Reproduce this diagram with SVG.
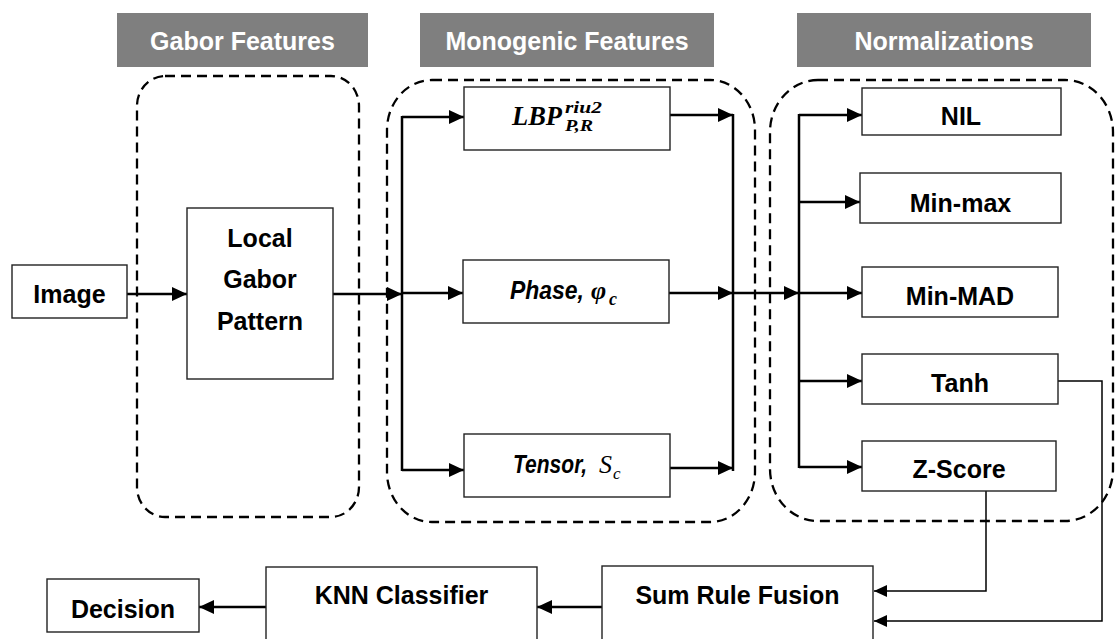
<svg xmlns="http://www.w3.org/2000/svg" width="1117" height="639" viewBox="0 0 1117 639">
<defs>
<marker id="arr" markerUnits="userSpaceOnUse" markerWidth="16" markerHeight="14" refX="15" refY="7" orient="auto">
<path d="M0,0 L15,7 L0,14 z" fill="#000"/>
</marker>
<marker id="arrs" markerUnits="userSpaceOnUse" markerWidth="14" markerHeight="12" refX="13" refY="6" orient="auto">
<path d="M0,0 L13,6 L0,12 z" fill="#000"/>
</marker>
</defs>
<style>
.hdr{fill:#7f7f7f}
.ht{fill:#fff;font-family:"Liberation Sans",Arial,sans-serif;font-weight:bold;font-size:25px;text-anchor:middle}
.grp{fill:none;stroke:#000;stroke-width:2.3;stroke-dasharray:10 6}
.box{fill:#fff;stroke:#222;stroke-width:1.4}
.t{fill:#000;font-family:"Liberation Sans",Arial,sans-serif;font-weight:bold;font-size:25px;text-anchor:middle}
.ti{fill:#000;font-family:"Liberation Sans",Arial,sans-serif;font-weight:bold;font-style:italic;font-size:25px}
.m{fill:#000;font-family:"Liberation Serif","Times New Roman",serif;font-style:italic}
.c{fill:none;stroke:#000;stroke-width:2.5}
.ca{fill:none;stroke:#000;stroke-width:2.5;marker-end:url(#arr)}
.cs{fill:none;stroke:#000;stroke-width:1.5;marker-end:url(#arrs)}
</style>
<rect width="1117" height="639" fill="#fff"/>

<g id="headers">
<g id="hdr-gabor"><rect class="hdr" x="117" y="13" width="251" height="54"/><text class="ht" x="242.5" y="50">Gabor Features</text></g>
<g id="hdr-monogenic"><rect class="hdr" x="420" y="13" width="294" height="54"/><text class="ht" x="567" y="50">Monogenic Features</text></g>
<g id="hdr-norm"><rect class="hdr" x="797" y="13" width="294" height="54"/><text class="ht" x="944" y="50">Normalizations</text></g>
</g>

<g id="groups">
<rect class="grp" x="137" y="76" width="222" height="441" rx="28" ry="30"/>
<rect class="grp" x="387" y="80" width="368" height="442" rx="45" ry="50"/>
<rect class="grp" x="770" y="80" width="343" height="441" rx="48" ry="52"/>
</g>

<g id="connectors">
<path class="ca" d="M127,294 H187"/>
<path class="ca" d="M333,294 H402"/>
<path class="c" d="M402,116 V471"/>
<path class="ca" d="M402,117 H464"/>
<path class="ca" d="M402,293 H463"/>
<path class="ca" d="M402,470 H464"/>
<path class="ca" d="M670,115 H733"/>
<path class="ca" d="M669,293 H733"/>
<path class="ca" d="M670,468 H733"/>
<path class="c" d="M733,114 V471"/>
<path class="ca" d="M733,293 H799"/>
<path class="c" d="M799,114 V468"/>
<path class="ca" d="M799,115 H862"/>
<path class="ca" d="M799,202 H860"/>
<path class="ca" d="M799,293 H862"/>
<path class="ca" d="M799,381 H862"/>
<path class="ca" d="M799,467 H862"/>
<path class="cs" d="M1058,381 H1102 V621 H874"/>
<path class="cs" d="M986,491 V591 H874"/>
<path class="ca" d="M602,607 H537"/>
<path class="ca" d="M266,607 H199"/>
</g>

<g id="image"><rect class="box" x="12" y="265" width="115" height="53"/><text class="t" x="69.5" y="303">Image</text></g>
<g id="lgp"><rect class="box" x="187" y="208" width="146" height="171"/>
<text class="t" x="260" y="247">Local</text><text class="t" x="260" y="288">Gabor</text><text class="t" x="260" y="330">Pattern</text></g>

<g id="lbp"><rect class="box" x="464" y="87" width="206" height="63"/>
<text class="m" x="512" y="125" font-size="27" font-weight="bold" textLength="50" lengthAdjust="spacingAndGlyphs">LBP</text>
<text class="m" x="565" y="113" font-size="17" font-weight="bold" textLength="37" lengthAdjust="spacingAndGlyphs">riu2</text>
<text class="m" x="565" y="131" font-size="17" font-weight="bold" textLength="28" lengthAdjust="spacingAndGlyphs">P,R</text></g>

<g id="phase"><rect class="box" x="463" y="260" width="206" height="63"/>
<text class="ti" x="510" y="299" textLength="74" lengthAdjust="spacingAndGlyphs">Phase,</text>
<text class="m" x="591" y="299" font-size="26" font-weight="bold">φ</text>
<text class="m" x="609" y="305" font-size="18" font-weight="bold">c</text></g>

<g id="tensor"><rect class="box" x="464" y="434" width="206" height="63"/>
<text class="ti" x="513" y="473" textLength="74" lengthAdjust="spacingAndGlyphs">Tensor,</text>
<text class="m" x="599" y="473" font-size="26">S</text>
<text class="m" x="613" y="479" font-size="17">c</text></g>

<g id="nil"><rect class="box" x="862" y="88" width="199" height="47"/><text class="t" x="961" y="125">NIL</text></g>
<g id="minmax"><rect class="box" x="860" y="173" width="201" height="50"/><text class="t" x="960.5" y="212">Min-max</text></g>
<g id="minmad"><rect class="box" x="862" y="267" width="196" height="50"/><text class="t" x="960" y="305">Min-MAD</text></g>
<g id="tanh"><rect class="box" x="862" y="354" width="196" height="50"/><text class="t" x="960" y="392">Tanh</text></g>
<g id="zscore"><rect class="box" x="862" y="441" width="194" height="50"/><text class="t" x="959" y="478">Z-Score</text></g>

<g id="sumrule"><rect class="box" x="602" y="566" width="271" height="80"/><text class="t" x="737.5" y="604">Sum Rule Fusion</text></g>
<g id="knn"><rect class="box" x="266" y="567" width="271" height="80"/><text class="t" x="401.5" y="604">KNN Classifier</text></g>
<g id="decision"><rect class="box" x="47" y="579" width="152" height="53"/><text class="t" x="123" y="618">Decision</text></g>
</svg>
